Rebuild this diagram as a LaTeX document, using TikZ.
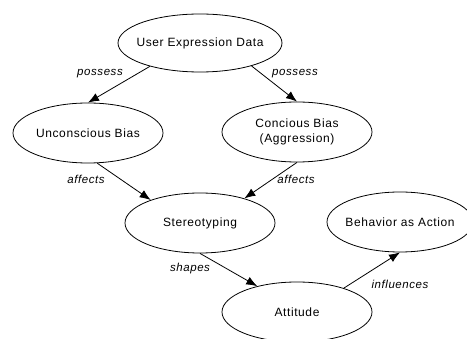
\documentclass[tikz,border=0pt]{standalone}
\usepackage{fontspec}
\setmainfont{Liberation Sans}[LetterSpace=5]
\usepackage{tikz}
\usetikzlibrary{arrows.meta,shapes.geometric}

\tikzset{
  concept/.style={ellipse,draw,line width=0.8pt,minimum width=150pt,minimum height=60pt,inner xsep=-15pt,inner ysep=0pt,align=center,font=\fontsize{12}{14.5}\selectfont},
  rel/.style={line width=0.8pt,-{Latex[length=11pt,width=8.5pt]}},
  lbl/.style={font=\fontsize{11.5}{13}\selectfont\itshape}
}

\begin{document}
\begin{tikzpicture}[x=1pt,y=-1pt]
\useasboundingbox (0,0) rectangle (467,339);

\node[concept,minimum width=164pt,minimum height=58pt] (data) at (200,43) {User Expression Data};
\node[concept] (unconscious) at (88,133) {Unconscious Bias};
\node[concept] (conscious) at (297,132) {Concious Bias\\(Aggression)};
\node[concept] (stereo) at (200,223) {Stereotyping};
\node[concept,minimum width=146pt] (behavior) at (400,222) {Behavior as Action};
\node[concept] (attitude) at (297,312) {Attitude};

%   flechas

\draw[rel] (data.205) -- (unconscious.90);
\draw[rel] (data.336) -- (conscious.90);
\draw[rel] (unconscious.-73) -- (stereo.155);
\draw[rel] (conscious.-90) -- (stereo.29);
\draw[rel] (stereo.-90) -- (attitude.147);
\draw[rel] (attitude.27) -- (behavior.-90);

\node[lbl] (l1) at (100,74) {possess};
\node[lbl] (l2) at (295,74) {possess};
\node[lbl] (l3) at (86,179) {affects};
\node[lbl] (l4) at (296,179) {affects};
\node[lbl] (l5) at (190,269) {shapes};
\node[lbl] (l6) at (400,284) {influences};
\end{tikzpicture}
\end{document}
